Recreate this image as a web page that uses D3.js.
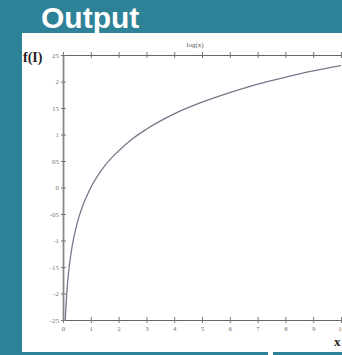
<!DOCTYPE html>
<html><head><meta charset="utf-8">
<script src="https://cdn.jsdelivr.net/npm/d3@7"></script>
<style>html,body{margin:0;padding:0;background:#2e8298;overflow:hidden}</style>
</head><body>
<svg id="c" width="342" height="355"></svg>
<script>
const xTicks = [0,1,2,3,4,5,6,7,8,9,10];
const yTicks = [2.5,2,1.5,1,0.5,0,-0.5,-1,-1.5,-2,-2.5];
const yTickLabels = ["25","2","15","1","05","0","-05","-1","-15","-2","-25"];
const curveX = [0.08,0.1,0.13,0.17,0.22,0.3,0.4,0.5,0.7,1,1.5,2,2.5,3,4,5,6,7,8,9,10];
const curveY = [-2.5,-2.3,-2.04,-1.77,-1.51,-1.2,-0.92,-0.69,-0.36,0,0.41,0.69,0.92,1.1,1.39,1.61,1.79,1.95,2.08,2.2,2.3];

const svg = d3.select("#c");
svg.append("rect").attr("x",22).attr("y",33).attr("width",320).attr("height",319).attr("fill","#fff");
svg.append("rect").attr("x",268).attr("y",352).attr("width",5).attr("height",3).attr("fill","#fff");
svg.append("text").attr("x",41).attr("y",28).attr("fill","#fff")
  .attr("font-family","Liberation Sans, Arial, sans-serif").attr("font-weight","bold").attr("font-size",30).text("Output");

const x = d3.scaleLinear().domain([0,10]).range([63,341]);
const y = d3.scaleLinear().domain([-2.5,2.5]).range([320,55]);

const g = svg.append("g");
const xa = g.append("g").attr("transform",`translate(0,${y(-2.5)})`)
  .call(d3.axisBottom(x).tickValues(xTicks).tickSize(3).tickSizeOuter(0).tickPadding(3));
xa.select(".domain").attr("stroke","#666").attr("stroke-width",1.2);
xa.selectAll(".tick line").attr("stroke","#777").attr("y1",-3);
xa.selectAll(".tick text").attr("fill","#777").attr("font-family","Liberation Serif, serif").attr("font-size",7);
const xt = g.append("g").attr("transform",`translate(0,${y(2.5)})`)
  .call(d3.axisTop(x).tickValues(xTicks).tickSize(3).tickSizeOuter(0).tickFormat(""));
xt.select(".domain").attr("stroke","#666").attr("stroke-width",1.2);
xt.selectAll(".tick line").attr("stroke","#777").attr("y1",3);
const ya = g.append("g").attr("transform",`translate(${x(0)},0)`)
  .call(d3.axisLeft(y).tickValues(yTicks).tickFormat((d,i)=>yTickLabels[i]).tickSize(2).tickSizeOuter(0).tickPadding(2));
ya.select(".domain").attr("stroke","#888").attr("stroke-width",1.8);
ya.selectAll(".tick line").attr("stroke","#777").attr("x1",3);
ya.selectAll(".tick text").attr("fill","#777").attr("font-family","Liberation Serif, serif").attr("font-size",7);

const pts = curveX.map((d,i)=>[d,curveY[i]]);
g.append("path").datum(pts).attr("fill","none").attr("stroke","#77778a").attr("stroke-width",1.3)
  .attr("d", d3.line().x(d=>x(d[0])).y(d=>y(d[1])).curve(d3.curveMonotoneX));

svg.append("text").attr("x",195).attr("y",47).attr("text-anchor","middle").attr("fill","#555")
  .attr("font-family","Liberation Serif, serif").attr("font-size",7).text("log(x)");
svg.append("text").attr("x",23).attr("y",62).attr("fill","#222")
  .attr("font-family","Liberation Serif, serif").attr("font-weight","bold").attr("font-size",14).text("f(I)");
svg.append("text").attr("x",334).attr("y",346).attr("fill","#222")
  .attr("font-family","Liberation Serif, serif").attr("font-weight","bold").attr("font-size",13).text("x");
</script>
</body></html>
